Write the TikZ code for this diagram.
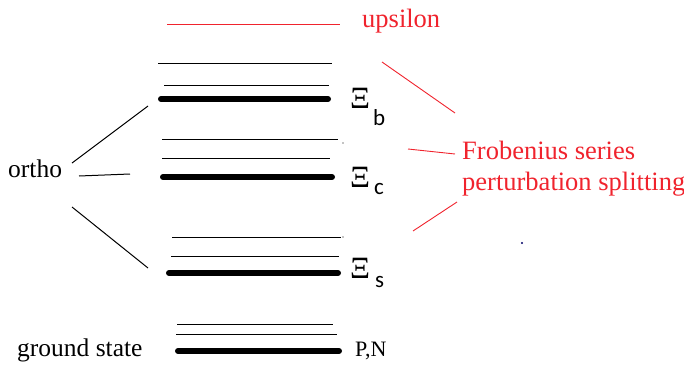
\documentclass[tikz,border=0pt]{standalone}
\usepackage{fontspec}
\setmainfont{Liberation Serif}
\newfontfamily\subfont{Carlito}
\usepackage{xcolor}
\usepackage{tikz}

\definecolor{labelred}{RGB}{240,35,45}

\begin{document}
\begin{tikzpicture}[x=1pt, y=-1pt,
        txt/.style={anchor=base west, inner sep=0pt, font=\fontsize{25.5}{30}\selectfont},
        redtxt/.style={txt, text=labelred, font=\fontsize{26.5}{30}\selectfont},
        xi/.style={anchor=base west, inner sep=0pt, font=\fontsize{31}{34}\selectfont},
        sub/.style={anchor=base west, inner sep=0pt, font=\subfont\fontsize{23}{27}\selectfont},
        thinlevel/.style={line width=1pt},
        thicklevel/.style={line width=6pt, line cap=round},
        redline/.style={labelred, line width=0.9pt}]
        \useasboundingbox (0,0) rectangle (684,364);

        % Define the nodes
        \node[redtxt] (ups) at (362,27) {upsilon};
        \node[redtxt] (frob) at (462,159) {Frobenius series};
        \node[redtxt] (pert) at (462,190) {perturbation splitting};
        \node[txt] (ortho) at (8,177) {ortho};
        \node[txt] (ground) at (17,356) {ground state};
        \node[txt, font=\fontsize{22}{26}\selectfont] (pn) at (355,356) {P,N};
        \node[xi] (xib) at (350,108) {Ξ};
        \node[sub] (xibs) at (373,125) {b};
        \node[xi] (xic) at (350,187) {Ξ};
        \node[sub] (xics) at (374,194) {c};
        \node[xi] (xis) at (350,278) {Ξ};
        \node[sub] (xiss) at (375,287) {s};

        % Define the ends of the lines
        \coordinate (o1) at (72,163);
        \coordinate (o2) at (79,176);
        \coordinate (o3) at (72,207);
        \coordinate (b) at (148,106);
        \coordinate (c) at (130,174);
        \coordinate (s) at (148,268);
        \coordinate (r1) at (382,62);
        \coordinate (r2) at (455,113);
        \coordinate (r3) at (408,149);
        \coordinate (r4) at (455,154);
        \coordinate (r5) at (457,202);
        \coordinate (r6) at (413,231);

        % Draw the levels
        \draw[redline] (167,24) -- (340,24);
        \draw[thinlevel] (158,63) -- (332,63);
        \draw[thinlevel] (164,85) -- (329,85);
        \draw[thicklevel] (161,99) -- (328,99);
        \draw[thinlevel] (162,139) -- (338,139);
        \draw[thinlevel] (162,158) -- (330,158);
        \draw[thicklevel] (163,177) -- (332,177);
        \draw[thinlevel] (172,237) -- (341,237);
        \draw[thinlevel] (171,256) -- (339,256);
        \draw[thicklevel] (169,273) -- (338,273);
        \draw[thinlevel] (177,324) -- (333,324);
        \draw[thinlevel] (176,334) -- (337,334);
        \draw[thicklevel] (178,351) -- (339,351);

        % Draw the lines
        \draw[thinlevel] (o1) -- (b);
        \draw[thinlevel] (o2) -- (c);
        \draw[thinlevel] (o3) -- (s);
        \draw[redline] (r1) -- (r2);
        \draw[redline] (r3) -- (r4);
        \draw[redline] (r5) -- (r6);

        % Draw the dots
        \fill (343,143) circle (0.7);
        \fill (343,237) circle (0.7);
        \fill[blue!40!black] (522,243) circle (1.2);
    \end{tikzpicture}
\end{document}
